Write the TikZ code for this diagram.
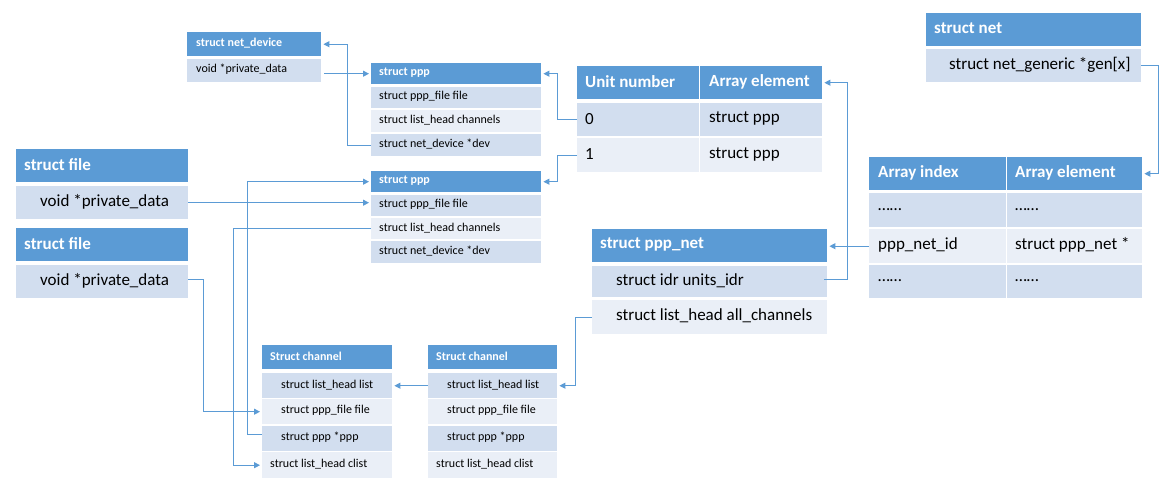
\documentclass[tikz,border=0pt]{standalone}
\usepackage{fontspec}
\setmainfont{Carlito}
\usetikzlibrary{arrows.meta}
\definecolor{hdr}{HTML}{5B9BD5}
\definecolor{rowA}{HTML}{D2DEEF}
\definecolor{rowB}{HTML}{EAEFF7}
\definecolor{lineblue}{HTML}{5B9BD5}
\newcommand\Lg{\fontsize{17}{19}\selectfont}
\newcommand\Sm{\fontsize{12}{14}\selectfont}
\newcommand\LH{\Lg\bfseries\color{white}}
\newcommand\SH{\Sm\bfseries\color{white}}
\tikzset{
  cellbox/.style={rectangle, anchor=north west, inner sep=0pt, draw=none},
  celltext/.style={anchor=west, inner sep=0pt, text=black},
  conn/.style={draw=lineblue, line width=1pt, -{Triangle[length=6pt,width=6pt]}, shorten >=2pt}
}
% #1 name, #2 x, #3 y, #4 w, #5 h, #6 fill, #7 indent, #8 text
\newcommand\cell[8]{%
  \node[cellbox, fill=#6, minimum width=#4pt, minimum height=#5pt] (#1) at (#2,#3) {};
  \node[celltext] (#1-t) at ([xshift=#7pt,yshift=1pt]#1.west) {#8};}
\begin{document}
\begin{tikzpicture}[x={(1pt,0pt)}, y={(0pt,-1pt)}]
\fill[white] (0,0) rectangle (1166,489);
\useasboundingbox (0,0) rectangle (1166,489);

% struct net_device
\cell{ndh}{187}{32}{134}{24}{hdr}{9}{\SH struct net\_device}
\cell{ndr}{187}{59}{134}{23}{rowA}{9}{\Sm void *private\_data}

% struct ppp (1)
\cell{ppp1h}{371}{63}{170}{21}{hdr}{8}{\SH struct ppp}
\cell{ppp1a}{371}{87}{170}{21}{rowA}{8}{\Sm struct ppp\_file file}
\cell{ppp1b}{371}{110}{170}{22}{rowB}{8}{\Sm struct list\_head channels}
\cell{ppp1c}{371}{134}{170}{22}{rowA}{8}{\Sm struct net\_device *dev}

% struct ppp (2)
\cell{ppp2h}{371}{171}{170}{21}{hdr}{8}{\SH struct ppp}
\cell{ppp2a}{371}{195}{170}{21}{rowA}{8}{\Sm struct ppp\_file file}
\cell{ppp2b}{371}{218}{170}{21}{rowB}{8}{\Sm struct list\_head channels}
\cell{ppp2c}{371}{241}{170}{22}{rowA}{8}{\Sm struct net\_device *dev}

% struct file (1,2)
\cell{f1h}{16}{149}{172}{33}{hdr}{8}{\LH struct file}
\cell{f1r}{16}{186}{172}{33}{rowA}{24}{\Lg void *private\_data}
\cell{f2h}{16}{228}{172}{33}{hdr}{8}{\LH struct file}
\cell{f2r}{16}{265}{172}{33}{rowA}{24}{\Lg void *private\_data}

% unit table
\cell{uh1}{577}{66}{122}{33}{hdr}{8}{\LH Unit number}
\cell{uh2}{700}{66}{122}{33}{hdr}{9}{\LH Array element}
\cell{u0a}{577}{103}{122}{33}{rowA}{8}{\Lg 0}
\cell{u0b}{700}{103}{122}{33}{rowA}{9}{\Lg struct ppp}
\cell{u1a}{577}{138}{122}{34}{rowB}{8}{\Lg 1}
\cell{u1b}{700}{138}{122}{34}{rowB}{9}{\Lg struct ppp}

% struct net
\cell{neth}{926}{13}{215}{33}{hdr}{8}{\LH struct net}
\cell{netr}{926}{49}{215}{33}{rowA}{23}{\Lg struct net\_generic *gen[x]}

% array table
\cell{ah1}{869}{157}{137}{33}{hdr}{9}{\LH Array index}
\cell{ah2}{1007}{157}{135}{33}{hdr}{8}{\LH Array element}
\cell{a1a}{869}{193}{137}{34}{rowA}{9}{\Lg ……}
\cell{a1b}{1007}{193}{135}{34}{rowA}{8}{\Lg ……}
\cell{a2a}{869}{229}{137}{34}{rowB}{9}{\Lg ppp\_net\_id}
\cell{a2b}{1007}{229}{135}{34}{rowB}{8}{\Lg struct ppp\_net *}
\cell{a3a}{869}{265}{137}{33}{rowA}{9}{\Lg ……}
\cell{a3b}{1007}{265}{135}{33}{rowA}{8}{\Lg ……}

% struct ppp_net
\cell{pnh}{592}{229}{235}{33}{hdr}{8}{\LH struct ppp\_net}
\cell{pn1}{592}{266}{235}{31}{rowA}{24}{\Lg struct idr units\_idr}
\cell{pn2}{592}{300}{235}{34}{rowB}{24}{\Lg struct list\_head all\_channels}

% channel 1
\cell{c1h}{262}{345}{130}{24}{hdr}{8}{\SH Struct channel}
\cell{c1a}{262}{373}{130}{25}{rowA}{19}{\Sm struct list\_head list}
\cell{c1b}{262}{399}{130}{25}{rowB}{19}{\Sm struct ppp\_file file}
\cell{c1c}{262}{426}{130}{25}{rowA}{19}{\Sm struct ppp *ppp}
\cell{c1d}{262}{452}{130}{26}{rowB}{8}{\Sm struct list\_head clist}

% channel 2
\cell{c2h}{428}{345}{129}{24}{hdr}{8}{\SH Struct channel}
\cell{c2a}{428}{373}{129}{25}{rowA}{19}{\Sm struct list\_head list}
\cell{c2b}{428}{399}{129}{25}{rowB}{19}{\Sm struct ppp\_file file}
\cell{c2c}{428}{426}{129}{25}{rowA}{19}{\Sm struct ppp *ppp}
\cell{c2d}{428}{452}{129}{26}{rowB}{8}{\Sm struct list\_head clist}

% connectors
\draw[conn] ([xshift=3pt]ndr.east |- ppp1h.west) -- (ppp1h.west);
\draw[conn] (ppp1c.west) -- ++(-24,0) |- (ndh.east);
\draw[conn] (u0a.west) -- ++(-20,0) |- (ppp1h.east);
\draw[conn] (u1a.west) -- ++(-20,0) |- (ppp2h.east);
\draw[conn] ([xshift=-3pt,yshift=2pt]pn1.east) -- ++(23,0) |- (uh2.east);
\draw[conn] (a2a.west) -- (a2a.west -| pnh.east);
\draw[conn] (netr.east) -- ++(17,0) |- (ah2.east);
\draw[conn] (f1r.east) -- (f1r.east -| ppp2a.west);
\draw[conn] ([yshift=4pt]c1c.west) -- ++(-15,0) |- (ppp2h.west);
\draw[conn] (ppp2b.west) -- ++(-138,0) |- (c1d.west);
\draw[conn] ([yshift=2pt]f2r.east) -- ++(15,0) |- (c1b.west);
\draw[conn] (c2a.west) -- (c2a.west -| c1a.east);
\draw[conn] (pn2.west) -- ++(-17,0) |- (c2a.east);
\end{tikzpicture}
\end{document}
